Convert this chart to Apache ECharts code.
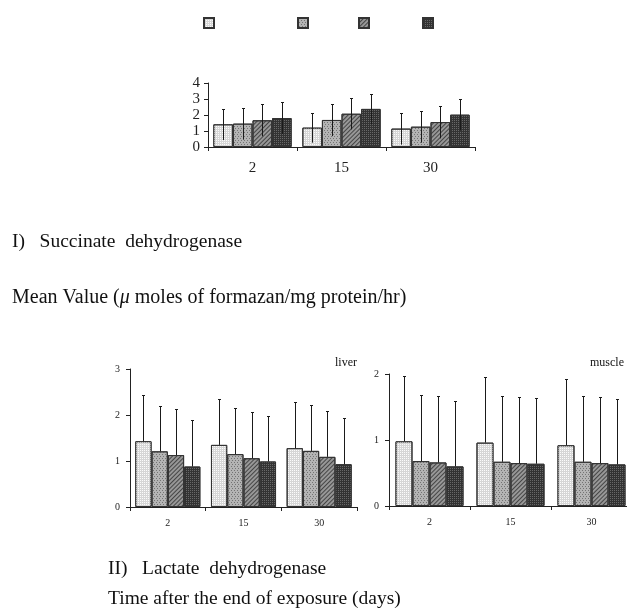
<!DOCTYPE html>
<html>
<head>
<meta charset="utf-8">
<script src="https://cdn.jsdelivr.net/npm/echarts@6/dist/echarts.min.js"></script>
<style>html,body{margin:0;padding:0;background:#fff;overflow:hidden;width:627px;height:610px}#c{width:640px;height:610px}</style>
</head>
<body>
<div id="c"></div>
<script>
// ---- data ----
const categories = ['2', '15', '30'];
const seriesNames = ['Series 1', 'Series 2', 'Series 3', 'Series 4'];

// I) Succinate dehydrogenase (mean, SD) per series across categories
const sdhS1 = [1.42, 1.21, 1.15];
const sdhS2 = [1.46, 1.69, 1.27];
const sdhS3 = [1.67, 2.08, 1.56];
const sdhS4 = [1.81, 2.38, 2.02];
const sdhSD1 = [0.98, 0.94, 1.00];
const sdhSD2 = [1.00, 1.01, 1.00];
const sdhSD3 = [1.00, 0.98, 1.02];
const sdhSD4 = [1.00, 0.95, 1.00];

// II) Lactate dehydrogenase - liver
const liverS1 = [1.43, 1.35, 1.28];
const liverS2 = [1.21, 1.15, 1.22];
const liverS3 = [1.13, 1.06, 1.09];
const liverS4 = [0.88, 0.99, 0.93];
const liverSD1 = [1.00, 1.00, 1.00];
const liverSD2 = [0.99, 1.00, 1.00];
const liverSD3 = [1.00, 1.01, 1.00];
const liverSD4 = [1.01, 0.99, 1.00];

// II) Lactate dehydrogenase - muscle
const muscleS1 = [0.98, 0.96, 0.92];
const muscleS2 = [0.68, 0.67, 0.67];
const muscleS3 = [0.66, 0.65, 0.65];
const muscleS4 = [0.60, 0.64, 0.63];
const muscleSD1 = [0.99, 0.99, 1.00];
const muscleSD2 = [1.00, 1.00, 0.99];
const muscleSD3 = [1.00, 1.00, 1.00];
const muscleSD4 = [0.99, 0.99, 0.99];

const yTicksTop = [0, 1, 2, 3, 4];
const yTicksLiver = [0, 1, 2, 3];
const yTicksMuscle = [0, 1, 2];

// ---- styles ----
const serif = "'Liberation Serif','Times New Roman',serif";
const fills = [
  { color: '#d6d6d6', decal: { symbol: 'rect', symbolSize: 1, dashArrayX: [1, 1], dashArrayY: [1, 1], color: 'rgba(255,255,255,0.9)' } },
  { color: '#b4b4b4', decal: { symbol: 'rect', symbolSize: 1, dashArrayX: [[1, 2], [0, 1, 1, 1]], dashArrayY: [1, 1], color: 'rgba(100,100,100,0.8)' } },
  { color: '#979797', decal: { symbol: 'rect', symbolSize: 1, dashArrayX: [1, 0], dashArrayY: [1, 2], rotation: -Math.PI / 4, color: 'rgba(60,60,60,0.9)' } },
  { color: '#333333', decal: { symbol: 'rect', symbolSize: 1, dashArrayX: [1, 1], dashArrayY: [1, 1], color: 'rgba(110,110,110,0.9)' } }
];

const panels = [
  { means: [sdhS1, sdhS2, sdhS3, sdhS4], sds: [sdhSD1, sdhSD2, sdhSD3, sdhSD4], gap: 0.12, both: true },
  { means: [liverS1, liverS2, liverS3, liverS4], sds: [liverSD1, liverSD2, liverSD3, liverSD4], gap: 0.14, both: false },
  { means: [muscleS1, muscleS2, muscleS3, muscleS4], sds: [muscleSD1, muscleSD2, muscleSD3, muscleSD4], gap: 0.16, both: false }
];

function errRenderer(idx, n, gap) {
  return function (params, api) {
    const x = api.value(0), lo = api.value(1), hi = api.value(2);
    const band = api.size([1, 0])[0];
    const groupW = band * (1 - gap);
    const bw = groupW / n;
    const c = api.coord([x, 0])[0];
    const cx = Math.round(c - groupW / 2 + bw * (idx + 0.5)) + 0.5;
    const y1 = api.coord([x, lo])[1];
    const y2 = Math.round(api.coord([x, hi])[1]) + 0.5;
    return {
      type: 'group',
      children: [
        { type: 'line', shape: { x1: cx, y1: y1, x2: cx, y2: y2 }, style: { stroke: '#1a1a1a', lineWidth: 1 } },
        { type: 'line', shape: { x1: cx - 1.5, y1: y2, x2: cx + 1.5, y2: y2 }, style: { stroke: '#1a1a1a', lineWidth: 1 } }
      ]
    };
  };
}

const series = [];
panels.forEach((p, g) => {
  p.means.forEach((vals, i) => {
    series.push({
      name: seriesNames[i], type: 'bar', xAxisIndex: g, yAxisIndex: g,
      data: vals, barGap: '0%', barCategoryGap: (p.gap * 100) + '%',
      itemStyle: { color: fills[i].color, decal: fills[i].decal, borderColor: '#333', borderWidth: 1 },
      silent: true, z: 2
    });
  });
  p.means.forEach((vals, i) => {
    const data = vals.map((v, k) => [k, p.both ? v - p.sds[i][k] : v, v + p.sds[i][k]]);
    series.push({
      type: 'custom', xAxisIndex: g, yAxisIndex: g, data: data,
      encode: { x: 0, y: [1, 2] }, renderItem: errRenderer(i, 4, p.gap), z: 5, silent: true
    });
  });
});

function xAxis(g, fontSize, margin) {
  return {
    type: 'category', gridIndex: g, data: categories,
    axisLine: { lineStyle: { color: '#222', width: 1 } },
    axisTick: { show: true, length: 4, alignWithLabel: false, lineStyle: { color: '#222' } },
    axisLabel: { fontFamily: serif, fontSize: fontSize, color: '#222', margin: margin }
  };
}
function yAxis(g, ticks, fontSize, margin) {
  return {
    type: 'value', gridIndex: g, min: ticks[0], max: ticks[ticks.length - 1], interval: 1,
    axisLine: { show: true, lineStyle: { color: '#222', width: 1 } },
    axisTick: { show: true, length: 4, lineStyle: { color: '#222' } },
    splitLine: { show: false },
    axisLabel: { fontFamily: serif, fontSize: fontSize, color: '#222', margin: margin }
  };
}

const legendX = [203, 297, 358, 422];
const legends = seriesNames.map((nm, i) => ({
  data: [nm], left: legendX[i], top: 17, itemWidth: 10, itemHeight: 10,
  icon: 'rect', selectedMode: false, formatter: () => '', padding: 0,
  textStyle: { fontSize: 1 }
}));

const option = {
  animation: false,
  backgroundColor: '#fff',
  legend: legends,
  grid: [
    { left: 208, top: 83, width: 267, height: 64 },
    { left: 130, top: 369, width: 227, height: 138 },
    { left: 389, top: 374, width: 243, height: 132 }
  ],
  xAxis: [xAxis(0, 15, 14), xAxis(1, 10, 11), xAxis(2, 10, 11)],
  yAxis: [yAxis(0, yTicksTop, 15, 8), yAxis(1, yTicksLiver, 10, 10), yAxis(2, yTicksMuscle, 10, 10)],
  series: series,
  graphic: [
    { type: 'text', left: 12, top: 232, style: { text: 'I)   Succinate  dehydrogenase', font: '19.5px ' + serif, fill: '#111' } },
    { type: 'text', left: 12, top: 288, style: {
        text: 'Mean Value ({i|\u03BC} moles of formazan/mg protein/hr)', font: '20px ' + serif, fill: '#111',
        rich: { i: { fontStyle: 'italic', fontSize: 20, fontFamily: serif, fill: '#111' } } } },
    { type: 'text', left: 335, top: 357, style: { text: 'liver', font: '12px ' + serif, fill: '#111' } },
    { type: 'text', left: 590, top: 357, style: { text: 'muscle', font: '12px ' + serif, fill: '#111' } },
    { type: 'text', left: 108, top: 559, style: { text: 'II)   Lactate  dehydrogenase', font: '19.5px ' + serif, fill: '#111' } },
    { type: 'text', left: 108, top: 589, style: { text: 'Time after the end of exposure (days)', font: '19.5px ' + serif, fill: '#111' } }
  ]
};

const chart = echarts.init(document.getElementById('c'), null, { renderer: 'canvas' });
chart.setOption(option);
</script>
</body>
</html>
